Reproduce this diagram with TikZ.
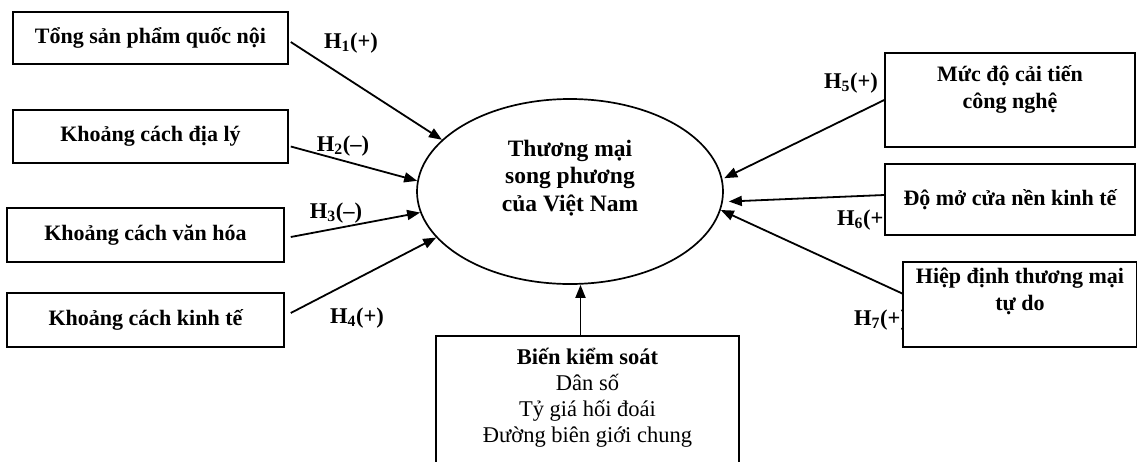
\documentclass[tikz,border=0pt]{standalone}
\usepackage{fontspec}
\setmainfont{Liberation Serif}
\usetikzlibrary{arrows.meta,calc,shapes.geometric}
\begin{document}
\begin{tikzpicture}[x=1pt,y=-1pt,
  box/.style={draw,line width=1.5pt,fill=white,inner sep=0pt,rectangle,
    font=\fontsize{22}{27}\selectfont\bfseries,align=center},
  txt/.style={inner sep=0pt,align=center,font=\fontsize{22}{27}\selectfont\bfseries},
  oval/.style={draw,ellipse,line width=1.7pt,inner sep=0pt},
  lbl/.style={inner sep=0pt,font=\fontsize{22.5}{26}\selectfont\bfseries},
  arr/.style={-{Triangle[length=13pt,width=10pt]},line width=1.8pt}]
\useasboundingbox (0,0) rectangle (1137,461);
\clip (0,0) rectangle (1137,461);
% central ellipse
\node[oval,minimum width=306pt,minimum height=185pt] (e) at (570,191.5) {};
\node[txt,font=\fontsize{23.5}{27.5}\selectfont\bfseries] (et) at (570,178) {Thương mại\\song phương\\của Việt Nam};
% labels
\node[lbl] (l1) at (351,43) {H\textsubscript{1}(+)};
\node[lbl] (l2) at (343,146) {H\textsubscript{2}(–)};
\node[lbl] (l3) at (336,213) {H\textsubscript{3}(–)};
\node[lbl] (l4) at (357,318) {H\textsubscript{4}(+)};
\node[lbl] (l5) at (851,83) {H\textsubscript{5}(+)};
\node[lbl] (l6) at (864,220) {H\textsubscript{6}(+)};
\node[lbl] (l7) at (881,320) {H\textsubscript{7}(+)};
% left boxes
\node[box,minimum width=275pt,minimum height=52pt] (b1) at (150.5,38) {Tổng sản phẩm quốc nội};
\node[box,minimum width=275pt,minimum height=53pt] (b2) at (150.5,136.5) {Khoảng cách địa lý};
\node[box,minimum width=277pt,minimum height=54pt] (b3) at (145.5,235) {Khoảng cách văn hóa};
\node[box,minimum width=277pt,minimum height=54pt] (b4) at (145.5,320) {Khoảng cách kinh tế};
% right boxes
\node[box,minimum width=250pt,minimum height=94pt] (b5) at (1010,100) {};
\node[txt] (t5) at (1010,89) {Mức độ cải tiến\\công nghệ};
\node[box,minimum width=250pt,minimum height=71pt] (b6) at (1010,199.5) {Độ mở cửa nền kinh tế};
\node[box,minimum width=234pt,minimum height=85pt] (b7) at (1020,304.5) {};
\node[txt] (t7) at (1020,291) {Hiệp định thương mại\\tự do};
% bottom box
\node[box,minimum width=303pt,minimum height=150pt] (b8) at (587.5,411) {};
\node[inner sep=0pt,align=center,font=\fontsize{22.5}{26}\selectfont] (t8) at (587.5,398)
  {\textbf{Biến kiểm soát}\\Dân số\\Tỷ giá hối đoái\\Đường biên giới chung};
% arrows
\draw[arr] ($(b1.east)+(2,4)$) -- (e.158);
\draw[arr] ($(b2.east)+(2,10)$) -- (e.176);
\draw[arr] ($(b3.east)+(6,2)$) -- (e.188);
\draw[arr] ($(b4.east)+(6,-7)$) -- (e.199);
\draw[arr] (b5.west) -- ($(e.5)+(2,0)$);
\draw[arr] ($(b6.west)+(0,-4.5)$) -- ($(e.east)+(5,10)$);
\draw[arr] ($(b7.west)+(0,-11)$) -- (e.-7);
\coordinate (c8) at ($(b8.north)+(-7,0)$);
\draw[arr] (c8) -- (c8 |- e.south);
\end{tikzpicture}
\end{document}
